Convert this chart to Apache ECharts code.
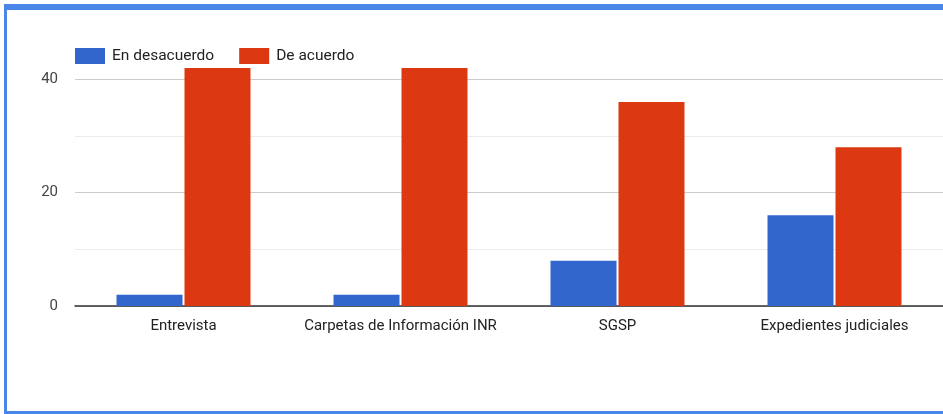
<!DOCTYPE html>
<html>
<head>
<meta charset="utf-8">
<script src="https://cdn.jsdelivr.net/npm/echarts@6/dist/echarts.min.js"></script>
<style>
  html, body { margin: 0; padding: 0; background: #fff; }
  #wrap { position: relative; width: 943px; height: 414px; overflow: hidden; }
  #chart { position: absolute; left: 0; top: 0; width: 943px; height: 414px; }
  #frame {
    position: absolute; left: 4px; top: 4px; width: 960px; height: 401px;
    border-top: 6px solid #4a86e8; border-left: 3px solid #4a86e8; border-bottom: 3px solid #4a86e8;
    pointer-events: none;
  }
</style>
</head>
<body>
<div id="wrap">
  <div id="chart"></div>
  <div id="frame"></div>
</div>
<script>
const categories = ['Entrevista', 'Carpetas de Información INR', 'SGSP', 'Expedientes judiciales'];
const enDesacuerdo = [2, 2, 8, 16];
const deAcuerdo = [42, 42, 36, 28];
const yTickLabels = [0, 20, 40];

const chart = echarts.init(document.getElementById('chart'), null, { renderer: 'canvas' });
const font = 'Roboto, Arial, sans-serif';

chart.setOption({
  animation: false,
  legend: {
    left: 75, top: 48, padding: 0,
    itemWidth: 30, itemHeight: 16, itemGap: 25,
    icon: 'rect',
    textStyle: { fontFamily: font, fontSize: 15.5, color: '#222', padding: [0, 0, 0, 2] },
    data: ['En desacuerdo', 'De acuerdo']
  },
  grid: { left: 75, top: 68, width: 872, bottom: 108, containLabel: false },
  xAxis: {
    type: 'category',
    data: categories,
    axisLine: { lineStyle: { color: '#333', width: 1.5 } },
    axisTick: { show: false },
    axisLabel: { fontFamily: font, fontSize: 15, color: '#222', margin: 13, interval: 0 }
  },
  yAxis: {
    type: 'value',
    min: 0, max: 42, interval: 10,
    axisLine: { show: false },
    axisTick: { show: false },
    axisLabel: {
      fontFamily: font, fontSize: 15, color: '#444', margin: 17,
      formatter: v => (yTickLabels.includes(v) ? String(v) : '')
    },
    splitLine: {
      lineStyle: { color: ['#ccc', '#ebebeb', '#ccc', '#ebebeb', '#ccc', 'rgba(0,0,0,0)'], width: 1 }
    }
  },
  series: [
    {
      name: 'En desacuerdo', type: 'bar', data: enDesacuerdo,
      barWidth: 66, barGap: '3%',
      itemStyle: { color: '#3366cc' }
    },
    {
      name: 'De acuerdo', type: 'bar', data: deAcuerdo,
      barWidth: 66, barGap: '3%',
      itemStyle: { color: '#dc3912' }
    }
  ]
});
</script>
</body>
</html>
